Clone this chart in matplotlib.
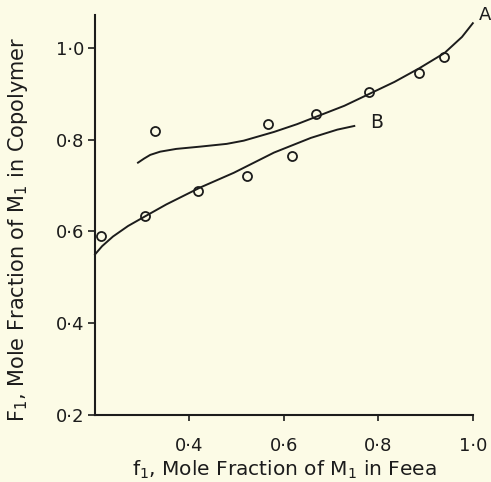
import matplotlib
matplotlib.use("Agg")
import matplotlib.pyplot as plt

# Data
obs_f1 = [0.213, 0.306, 0.326, 0.419, 0.521, 0.566, 0.617, 0.668, 0.781, 0.887, 0.938]
obs_F1 = [0.591, 0.633, 0.820, 0.689, 0.720, 0.835, 0.765, 0.857, 0.904, 0.946, 0.980]

curveA_f1 = [0.291, 0.304, 0.317, 0.338, 0.372, 0.423, 0.479, 0.515, 0.579, 0.628, 0.668, 0.728,
             0.781, 0.834, 0.887, 0.940, 0.977, 1.000]
curveA_F1 = [0.750, 0.759, 0.767, 0.774, 0.780, 0.785, 0.791, 0.798, 0.817, 0.834, 0.850, 0.874,
             0.900, 0.926, 0.956, 0.989, 1.024, 1.054]

curveB_f1 = [0.200, 0.215, 0.238, 0.270, 0.306, 0.351, 0.423, 0.494, 0.579, 0.657, 0.713, 0.749]
curveB_F1 = [0.550, 0.568, 0.589, 0.612, 0.633, 0.659, 0.696, 0.728, 0.772, 0.804, 0.822, 0.830]

y_ticks = [0.2, 0.4, 0.6, 0.8, 1.0]
y_ticklabels = ["0·2", "0·4", "0·6", "0·8", "1·0"]
x_ticks = [0.4, 0.6, 0.8, 1.0]
x_ticklabels = ["0·4", "0·6", "0·8", "1·0"]

bg = "#fcfbe6"
ink = "#1c1c1c"

fig = plt.figure(figsize=(4.91, 4.82), dpi=100, facecolor=bg)
ax = fig.add_axes([0.1935, 0.139, 0.7695, 0.830], facecolor=bg)

ax.plot(curveA_f1, curveA_F1, color=ink, lw=1.4, clip_on=False)
ax.plot(curveB_f1, curveB_F1, color=ink, lw=1.4, clip_on=False)
ax.plot(obs_f1, obs_F1, linestyle="none", marker="o", ms=6.5, mfc="none", mec=ink, mew=1.3, clip_on=False)

ax.text(1.012, 1.072, "A", fontsize=13, color=ink, ha="left", va="center", clip_on=False)
ax.text(0.782, 0.837, "B", fontsize=13.5, color=ink, ha="left", va="center")

ax.set_xlim(0.2, 1.0)
ax.set_ylim(0.2, 1.072)
for s in ["top", "right"]:
    ax.spines[s].set_visible(False)
for s in ["left", "bottom"]:
    ax.spines[s].set_linewidth(1.5)
    ax.spines[s].set_color(ink)

ax.set_yticks(y_ticks)
ax.set_yticklabels(y_ticklabels)
ax.set_xticks(x_ticks)
ax.set_xticklabels(x_ticklabels)
ax.tick_params(axis="y", direction="out", length=5, width=1.2, pad=3, labelsize=13, colors=ink)
ax.tick_params(axis="x", direction="out", length=4, width=1.2, pad=12, labelsize=13, colors=ink)

ax.set_xlabel("f$_1$, Mole Fraction of M$_1$ in Feea", fontsize=14.5, color=ink)
ax.set_ylabel("F$_1$, Mole Fraction of M$_1$ in Copolymer", fontsize=15, color=ink)
ax.yaxis.set_label_coords(-0.172, 0.465)
ax.xaxis.set_label_coords(0.5, -0.108)

fig.savefig("out.png", dpi=100, facecolor=bg)
